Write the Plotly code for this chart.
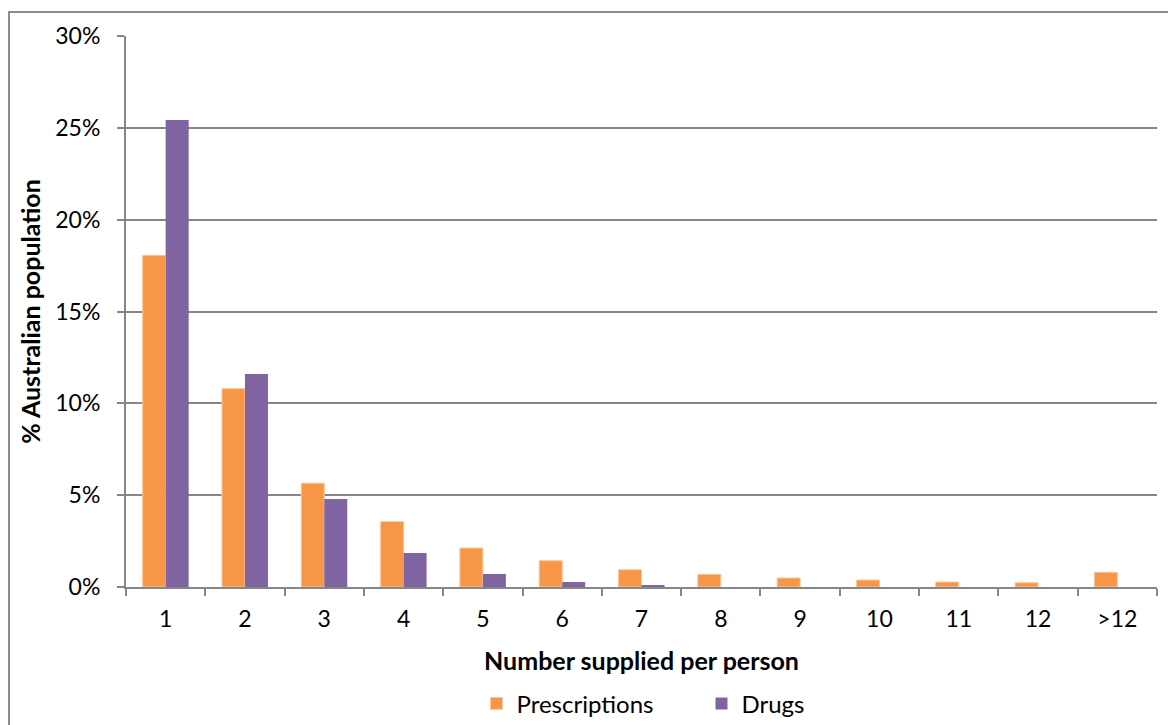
import plotly.graph_objects as go

categories = ["1", "2", "3", "4", "5", "6", "7", "8", "9", "10", "11", "12", ">12"]
prescriptions = [18.06, 10.80, 5.65, 3.56, 2.12, 1.43, 0.94, 0.69, 0.49, 0.38, 0.27, 0.23, 0.80]
drugs = [25.43, 11.60, 4.79, 1.85, 0.71, 0.27, 0.10, 0.0, 0.0, 0.0, 0.0, 0.0, 0.0]

W, H = 1168, 725
L, R, T, B = 126, 11, 36, 138
FONT = "Lato"
GRID = "#868686"

fig = go.Figure()
fig.add_trace(go.Bar(x=categories, y=prescriptions, name="Prescriptions",
                     marker=dict(color="#F79646", line=dict(color="#FBC79F", width=1))))
fig.add_trace(go.Bar(x=categories, y=drugs, name="Drugs",
                     marker=dict(color="#8064A2", line=dict(width=0))))

pw = W - L - R
ph = H - T - B
# outer chart border (left and top edges visible, extends past the page)
fig.add_shape(type="rect", xref="paper", yref="paper",
              x0=(9 - L) / pw, x1=(W + 20 - L) / pw,
              y0=-(H + 20 - T - ph) / ph, y1=1 + (T - 12) / ph,
              line=dict(color="#8C8C8C", width=2), layer="below")

fig.update_layout(
    width=W, height=H,
    margin=dict(l=L, r=R, t=T, b=B, autoexpand=False),
    paper_bgcolor="white", plot_bgcolor="white",
    barmode="group", bargap=0.42, bargroupgap=0,
    font=dict(family=FONT, size=24, color="#000000"),
    showlegend=True,
    legend=dict(orientation="h", x=0.5 + 60 / pw, xanchor="center", y=-0.212, yanchor="middle",
                font=dict(family=FONT, size=24), itemwidth=30, entrywidth=180,
                traceorder="normal"),
    xaxis=dict(
        title=dict(text="<b>Number supplied per person</b>", font=dict(family=FONT, size=25),
                   standoff=22),
        automargin=False,
        showline=True, linecolor=GRID, linewidth=2,
        ticks="outside", ticklen=7, tickwidth=2, tickcolor=GRID,
        ticklabelstandoff=10,
        tickson="boundaries", showgrid=False,
        tickfont=dict(family=FONT, size=23),
    ),
    yaxis=dict(
        title=dict(text="<b>% Australian population</b>", font=dict(family=FONT, size=25),
                   standoff=8),
        automargin=False,
        range=[0, 30], dtick=5, ticksuffix="%",
        showline=True, linecolor=GRID, linewidth=2,
        ticks="outside", ticklen=7, tickwidth=2, tickcolor=GRID,
        ticklabelstandoff=12,
        showgrid=True, gridcolor=GRID, gridwidth=2,
        zeroline=False,
        tickfont=dict(family=FONT, size=23),
    ),
)

fig.write_html("out.html")
